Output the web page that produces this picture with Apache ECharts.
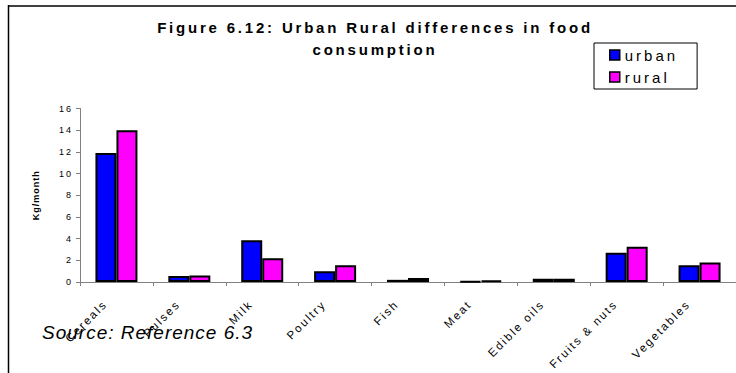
<!DOCTYPE html>
<html>
<head>
<meta charset="utf-8">
<script src="https://cdn.jsdelivr.net/npm/echarts@6/dist/echarts.min.js"></script>
<style>
  html, body { margin: 0; padding: 0; background: #fff; }
  #chart { width: 736px; height: 373px; }
</style>
</head>
<body>
<div id="chart"></div>
<script>
// Food groups on the category axis
const categories = ['Cereals', 'Pulses', 'Milk', 'Poultry', 'Fish', 'Meat', 'Edible oils', 'Fruits & nuts', 'Vegetables'];
// Monthly consumption, kg per month
const urban = [11.9, 0.55, 3.85, 1.0, 0.2, 0.06, 0.3, 2.7, 1.55];
const rural = [14.0, 0.6, 2.2, 1.55, 0.37, 0.12, 0.3, 3.25, 1.8];
const seriesNames = ['urban', 'rural'];

const FONT = "'Liberation Sans', Arial, sans-serif";

const chart = echarts.init(document.getElementById('chart'), null, { renderer: 'svg' });

// Character tracking per label style (rounded size in px, bold flag, extra spacing in px)
const tracking = [
  { size: 15, bold: true, spacing: 2.8 },
  { size: 15, bold: false, spacing: 3 },
  { size: 12, bold: false, spacing: 2 },
  { size: 9, bold: true, spacing: 1 },
  { size: 9, bold: false, spacing: 2 },
  { size: 19, bold: false, spacing: 1 }
];
function applyTracking() {
  const nodes = document.querySelectorAll('#chart svg text, #chart svg tspan');
  nodes.forEach(function (el) {
    const cs = window.getComputedStyle(el);
    const size = Math.round(parseFloat(cs.fontSize));
    const w = cs.fontWeight;
    const bold = w === 'bold' || parseInt(w, 10) >= 600;
    const rule = tracking.find(function (r) { return r.size === size && r.bold === bold; });
    if (rule) {
      el.style.letterSpacing = rule.spacing + 'px';
      el.setAttribute('letter-spacing', rule.spacing);
    }
  });
}

chart.on('finished', applyTracking);
chart.on('rendered', applyTracking);

chart.setOption({
  animation: false,
  backgroundColor: '#fff',
  title: {
    text: 'Figure 6.12: Urban Rural differences in food\nconsumption',
    left: 375,
    top: 16,
    padding: 0,
    textAlign: 'center',
    textStyle: { fontFamily: FONT, fontSize: 15, fontWeight: 'bold', color: '#000', lineHeight: 22 }
  },
  legend: {
    data: seriesNames,
    orient: 'vertical',
    left: 594,
    top: 43,
    padding: [4, 34, 4, 15],
    itemGap: 6,
    itemWidth: 10,
    itemHeight: 10,
    icon: 'rect',
    borderColor: '#000',
    borderWidth: 1,
    borderRadius: 0,
    itemStyle: { borderColor: '#000', borderWidth: 1.5 },
    textStyle: { fontFamily: FONT, fontSize: 15, color: '#000', lineHeight: 16 }
  },
  grid: { left: 80, top: 108.5, bottom: 91, right: -8, containLabel: false },
  xAxis: {
    type: 'category',
    data: categories,
    axisLine: { show: true, lineStyle: { color: '#808080', width: 1 } },
    axisTick: { show: true, length: 4, lineStyle: { color: '#808080' } },
    axisLabel: {
      interval: 0, rotate: 45, margin: 9, padding: [0, 16, 0, 0],
      fontFamily: FONT, fontSize: 11.5, color: '#000'
    }
  },
  yAxis: {
    type: 'value',
    min: 0, max: 16, interval: 2,
    name: 'Kg/month',
    nameLocation: 'middle',
    nameGap: 40,
    nameTextStyle: { fontFamily: FONT, fontSize: 9, fontWeight: 'bold', color: '#000' },
    axisLine: { show: true, lineStyle: { color: '#808080', width: 1 } },
    axisTick: { show: true, length: 4, lineStyle: { color: '#808080' } },
    splitLine: { show: false },
    axisLabel: { fontFamily: FONT, fontSize: 9, margin: 7, color: '#000' }
  },
  series: [
    {
      name: seriesNames[0], type: 'bar', data: urban,
      barWidth: 21, barGap: '0%',
      itemStyle: { color: '#0000ff', borderColor: '#000', borderWidth: 2 }
    },
    {
      name: seriesNames[1], type: 'bar', data: rural,
      barWidth: 21, barGap: '0%',
      itemStyle: { color: '#ff00ff', borderColor: '#000', borderWidth: 2 }
    }
  ],
  graphic: [
    { type: 'line', shape: { x1: 8, y1: 6, x2: 736, y2: 6 }, style: { stroke: '#404040', lineWidth: 2 }, silent: true },
    { type: 'line', shape: { x1: 8.5, y1: 5, x2: 8.5, y2: 373 }, style: { stroke: '#000', lineWidth: 1.5 }, silent: true },
    {
      type: 'text', left: 42, top: 323, silent: true,
      style: { text: 'Source: Reference 6.3', font: "italic 19px " + FONT, fill: '#000' }
    }
  ]
});

applyTracking();
requestAnimationFrame(applyTracking);
[0, 50, 150, 400, 800].forEach(function (t) { setTimeout(applyTracking, t); });
</script>
</body>
</html>
